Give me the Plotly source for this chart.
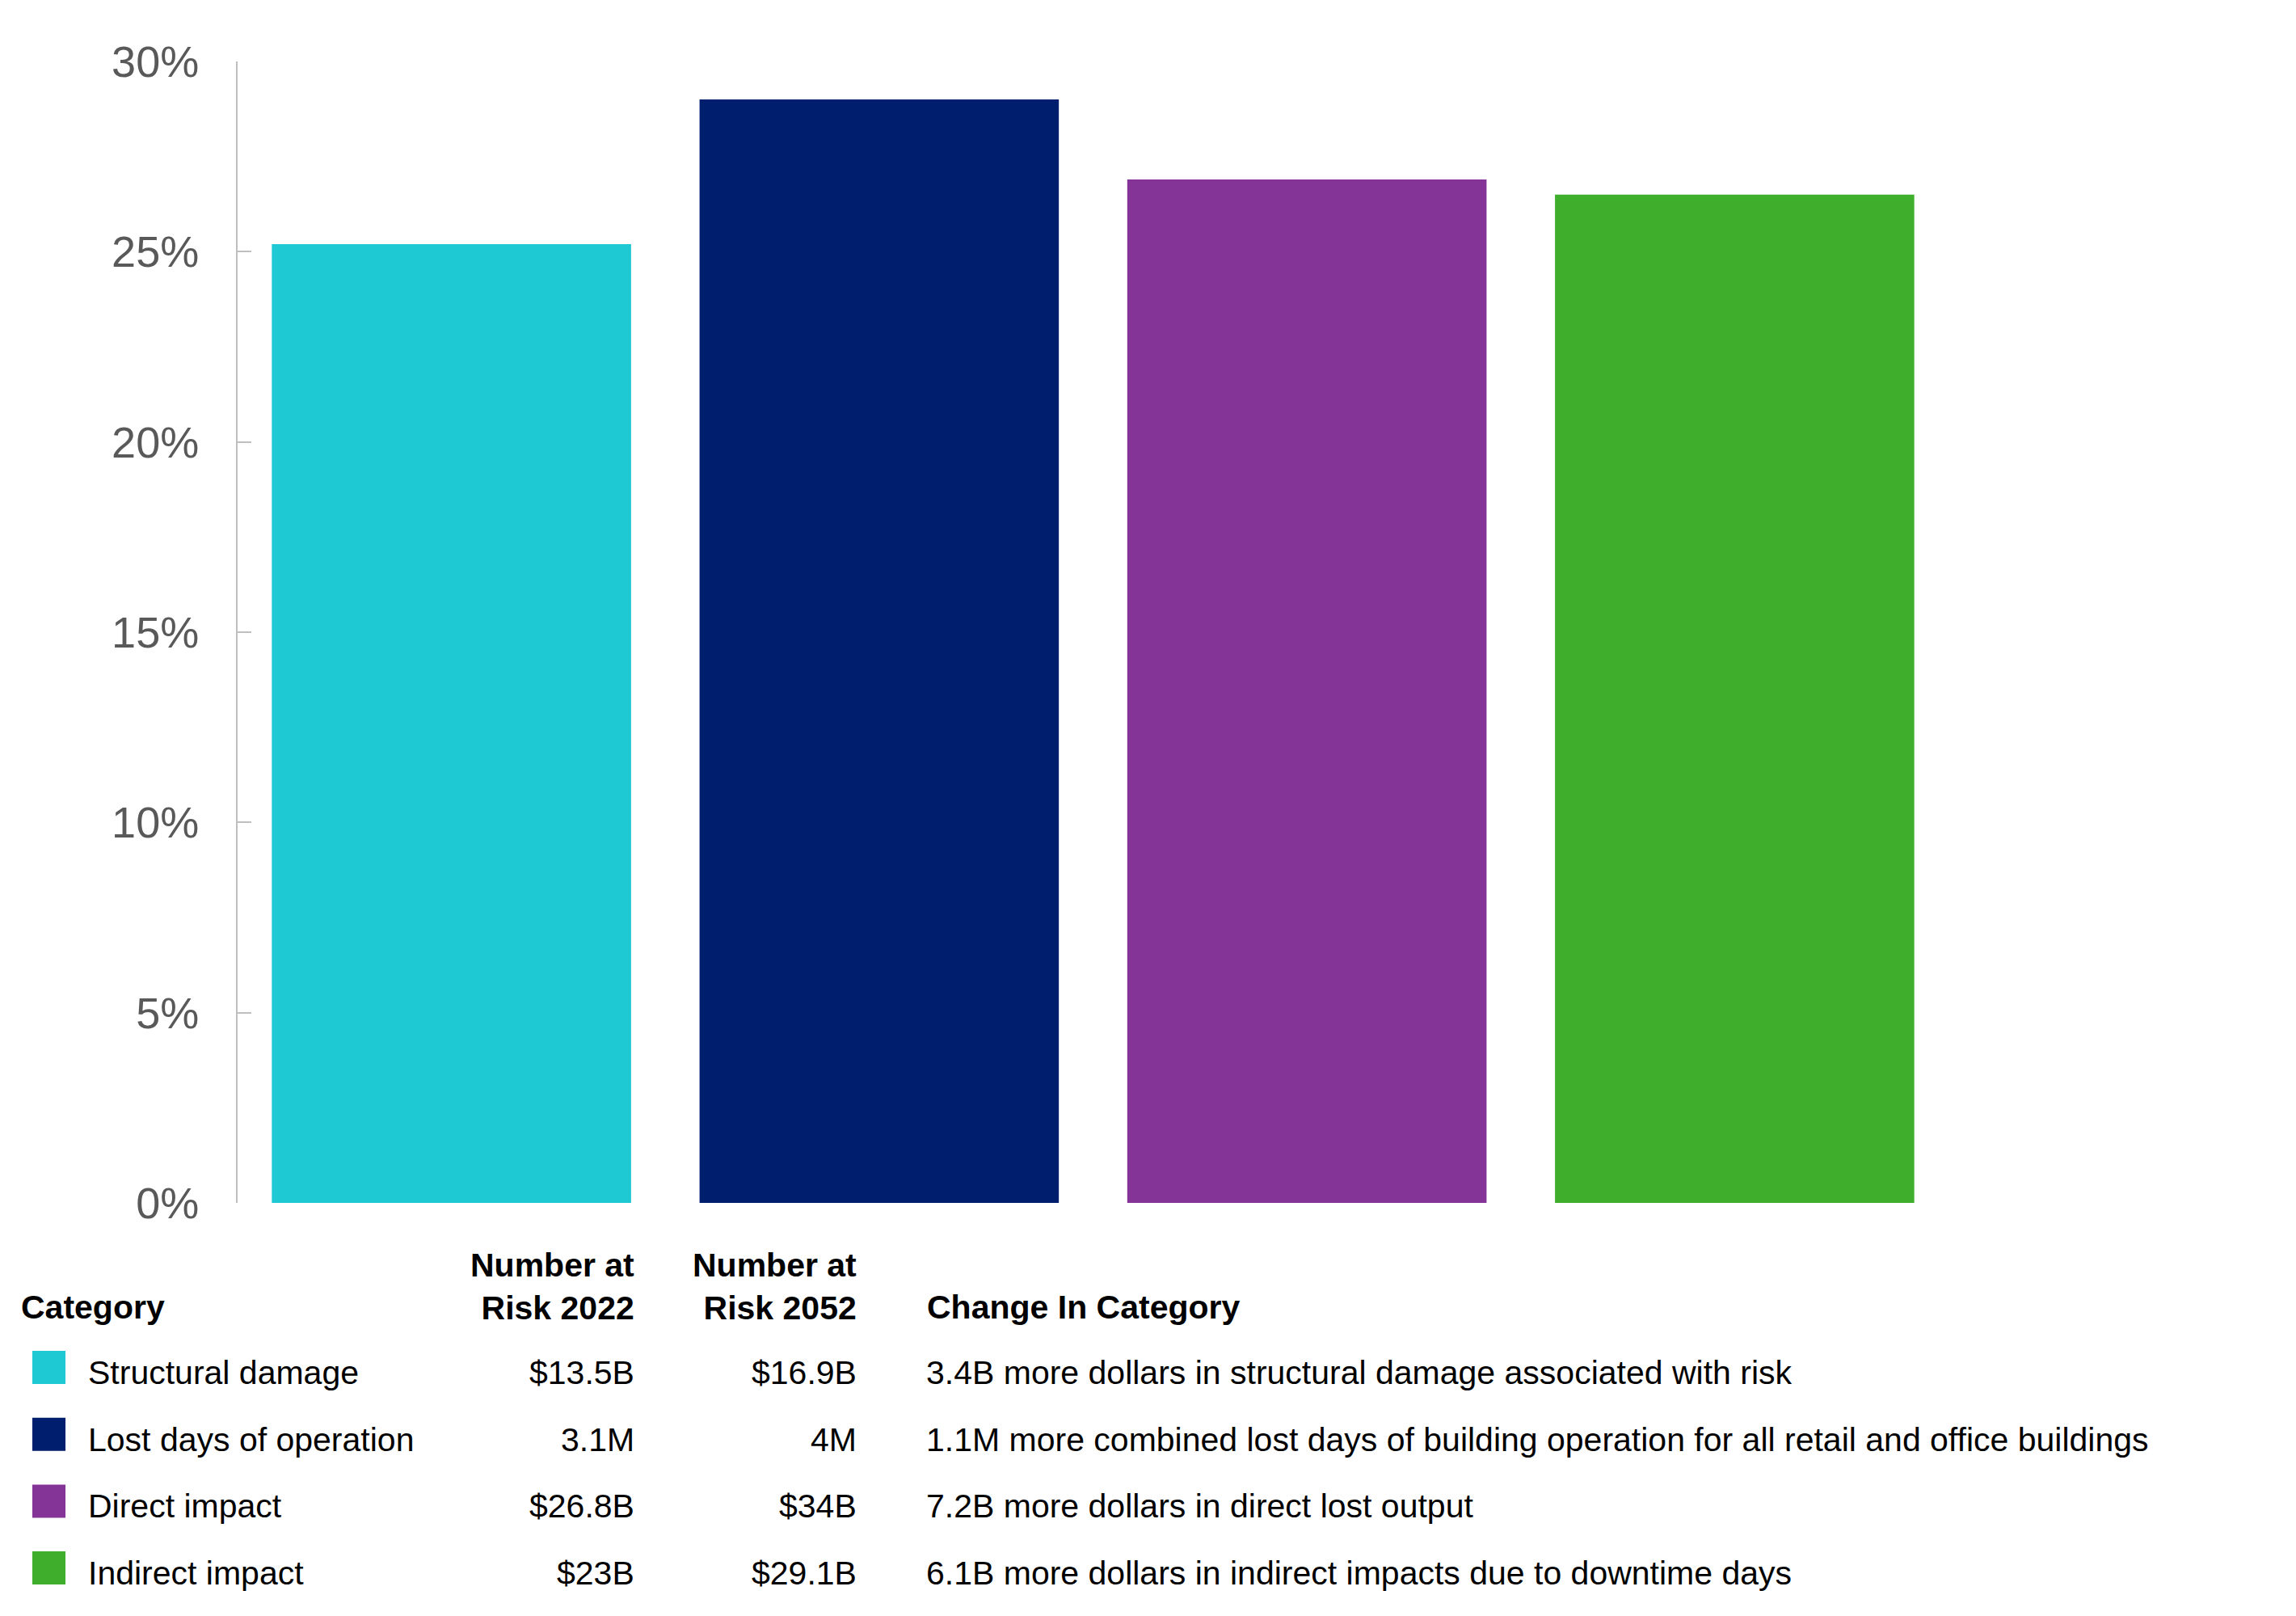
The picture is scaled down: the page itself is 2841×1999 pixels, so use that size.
import plotly.graph_objects as go

# ---------------- data ----------------
categories = ["Structural damage", "Lost days of operation", "Direct impact", "Indirect impact"]
pct_increase = [25.2, 29.0, 26.9, 26.5]
risk_2022 = ["$13.5B", "3.1M", "$26.8B", "$23B"]
risk_2052 = ["$16.9B", "4M", "$34B", "$29.1B"]
change_text = [
    "3.4B more dollars in structural damage associated with risk",
    "1.1M more combined lost days of building operation for all retail and office buildings",
    "7.2B more dollars in direct lost output",
    "6.1B more dollars in indirect impacts due to downtime days",
]
colors = ["#1EC9D3", "#001E6E", "#843397", "#3EAE2C"]
y_ticks = [0, 5, 10, 15, 20, 25, 30]

header_category = "Category"
header_2022 = "Number at<br>Risk 2022"
header_2052 = "Number at<br>Risk 2052"
header_change = "Change In Category"

# ---------------- layout geometry ----------------
W, H = 2841, 1999
L, R, T, B = 294, 430, 76, 511
PW = W - L - R
PH = H - T - B
FONT = "Liberation Sans, Arial, sans-serif"


def px_x(px):
    return (px - L) / PW


def px_y(py):
    return (H - B - py) / PH


fig = go.Figure()
fig.add_trace(go.Bar(
    x=categories,
    y=pct_increase,
    marker=dict(color=colors, line=dict(width=0)),
    hoverinfo="skip",
    showlegend=False,
))

annotations = []
shapes = []

body_size = 41
head_y = 1617
row0_y = 1698
row_step = 82.7

annotations.append(dict(text=f"<b>{header_category}</b>", x=px_x(24), y=px_y(head_y),
                        xanchor="left", yanchor="middle"))
annotations.append(dict(text=f"<b>{header_2022}</b>", x=px_x(787), y=px_y(head_y + 26),
                        xanchor="right", yanchor="bottom", align="right"))
annotations.append(dict(text=f"<b>{header_2052}</b>", x=px_x(1062), y=px_y(head_y + 26),
                        xanchor="right", yanchor="bottom", align="right"))
annotations.append(dict(text=f"<b>{header_change}</b>", x=px_x(1145), y=px_y(head_y),
                        xanchor="left", yanchor="middle"))

for i, cat in enumerate(categories):
    ty = row0_y + i * row_step
    annotations.append(dict(text=cat, x=px_x(107), y=px_y(ty), xanchor="left", yanchor="middle"))
    annotations.append(dict(text=risk_2022[i], x=px_x(787), y=px_y(ty), xanchor="right", yanchor="middle"))
    annotations.append(dict(text=risk_2052[i], x=px_x(1062), y=px_y(ty), xanchor="right", yanchor="middle"))
    annotations.append(dict(text=change_text[i], x=px_x(1144), y=px_y(ty), xanchor="left", yanchor="middle"))
    sq_c = ty - 6.5
    shapes.append(dict(type="rect", xref="paper", yref="paper",
                       x0=px_x(40), x1=px_x(81), y0=px_y(sq_c + 20.5), y1=px_y(sq_c - 20.5),
                       fillcolor=colors[i], line=dict(width=0), layer="above"))

for a in annotations:
    a.update(xref="paper", yref="paper", showarrow=False,
             font=dict(family=FONT, size=body_size, color="#000000"))

fig.update_layout(
    width=W, height=H,
    margin=dict(l=L, r=R, t=T, b=B, pad=0),
    paper_bgcolor="white",
    plot_bgcolor="white",
    bargap=0.16,
    font=dict(family=FONT),
    annotations=annotations,
    shapes=shapes,
    xaxis=dict(
        showticklabels=False, showline=False, showgrid=False, zeroline=False,
        ticks="", range=[-0.5, 3.5], fixedrange=True,
    ),
    yaxis=dict(
        range=[0, 30], tickvals=y_ticks, ticktext=[f"{v}%" for v in y_ticks],
        showgrid=False, zeroline=False,
        showline=True, linecolor="#BFBFBF", linewidth=2,
        ticks="inside", ticklen=17, tickwidth=2, tickcolor="#BFBFBF",
        tickfont=dict(family=FONT, size=54, color="#595959"),
        ticklabelstandoff=35,
    ),
)

fig.write_html("out.html")
